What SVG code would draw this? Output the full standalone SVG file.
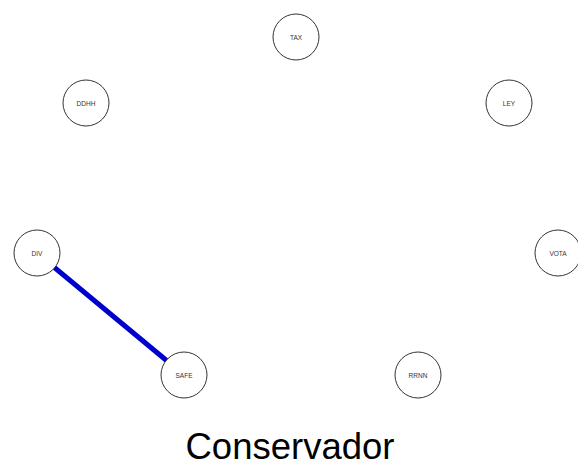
<svg xmlns="http://www.w3.org/2000/svg" width="578" height="472" viewBox="0 0 578 472">
<style>
.n circle{fill:#fff;stroke:#333;stroke-width:1}
.n text{font-family:"Liberation Sans",Arial,sans-serif;font-size:6.5px;fill:#333;text-anchor:middle;dominant-baseline:central}
.e{stroke:#0000cc;stroke-width:5;fill:none}
.t{font-family:"Liberation Sans",Arial,sans-serif;font-size:36.5px;fill:#000;text-anchor:middle}
</style>
<rect width="578" height="472" fill="#fff"/>
<g id="edges">
<line class="e" x1="37" y1="253" x2="184" y2="375"/>
</g>
<g id="TAX" class="n"><circle cx="296" cy="37" r="23"/><text x="296" y="37">TAX</text></g>
<g id="LEY" class="n"><circle cx="509" cy="103" r="23"/><text x="509" y="103">LEY</text></g>
<g id="VOTA" class="n"><circle cx="558" cy="253" r="23"/><text x="558" y="253">VOTA</text></g>
<g id="RRNN" class="n"><circle cx="418" cy="375" r="23"/><text x="418" y="375">RRNN</text></g>
<g id="SAFE" class="n"><circle cx="184" cy="375" r="23"/><text x="184" y="375">SAFE</text></g>
<g id="DIV" class="n"><circle cx="37" cy="253" r="23"/><text x="37" y="253">DIV</text></g>
<g id="DDHH" class="n"><circle cx="86" cy="103" r="23"/><text x="86" y="103">DDHH</text></g>
<text class="t" x="290" y="459">Conservador</text>
</svg>
